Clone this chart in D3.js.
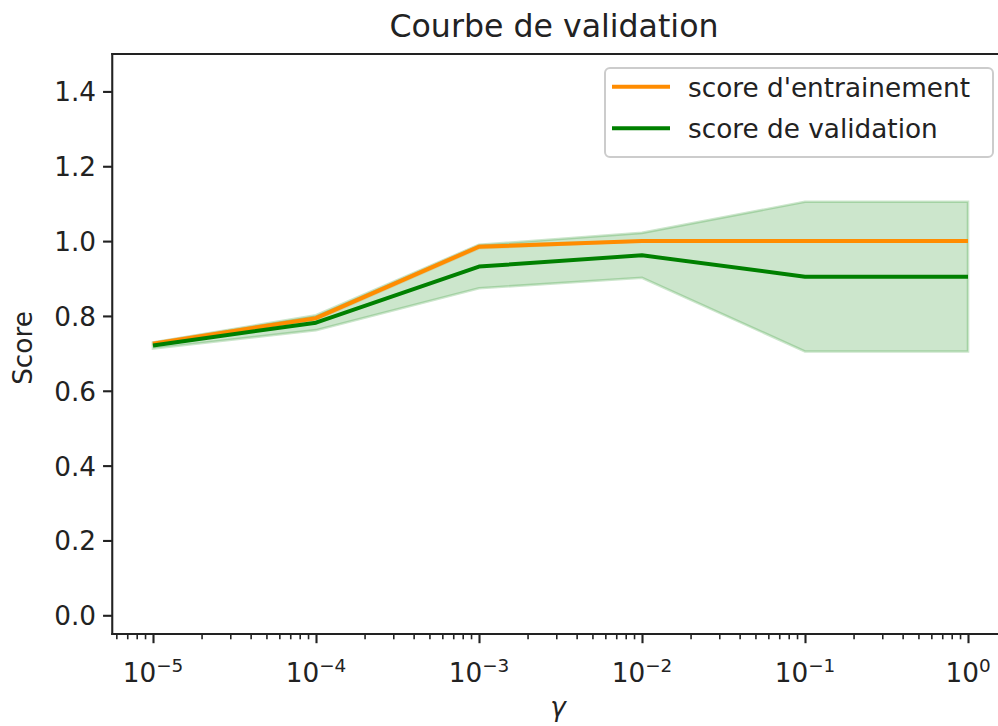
<!DOCTYPE html>
<html>
<head>
<meta charset="utf-8">
<script src="https://cdn.jsdelivr.net/npm/d3@7"></script>
<style>
  html, body { margin: 0; padding: 0; background: #fff; }
  svg { display: block; font-family: "DejaVu Sans", sans-serif; }
</style>
</head>
<body>
<svg id="chart" width="998" height="726"></svg>
<script>
// ---- data ----
const gammaValues = [1e-5, 1e-4, 1e-3, 1e-2, 1e-1, 1e0];
const trainMean   = [0.726, 0.794, 0.985, 1.0, 1.0, 1.0];
const trainStd    = [0.003, 0.004, 0.004, 0.0, 0.0, 0.0];
const valMean     = [0.721, 0.782, 0.932, 0.962, 0.905, 0.905];
const valStd      = [0.008, 0.020, 0.058, 0.060, 0.200, 0.200];
const yTicks      = [0.0, 0.2, 0.4, 0.6, 0.8, 1.0, 1.2, 1.4];
const xTickExps   = [-5, -4, -3, -2, -1, 0];
const seriesNames = ["score d'entrainement", "score de validation"];
const chartTitle  = "Courbe de validation";
const yLabel      = "Score";

(function () {
// ---- layout ----
const pLeft = 112.25, pRight = 1008.75, pTop = 54, pBottom = 634;
const ink = "#222";
const orange = "#ff8c00", green = "#008000";
const svg = d3.select("#chart");

const x = d3.scaleLog().domain([Math.pow(10, -5.25), Math.pow(10, 0.25)]).range([pLeft, pRight]);
const y = d3.scaleLinear().domain([-0.05, 1.5]).range([pBottom, pTop]);

const rows = gammaValues.map((g, i) => ({
  g, tm: trainMean[i], ts: trainStd[i], vm: valMean[i], vs: valStd[i]
}));

svg.append("clipPath").attr("id", "plotclip").append("rect")
  .attr("x", pLeft).attr("y", pTop).attr("width", pRight - pLeft).attr("height", pBottom - pTop);
const plot = svg.append("g").attr("clip-path", "url(#plotclip)");

const line = key => d3.line().x(d => x(d.g)).y(d => y(d[key]));
const band = (m, s) => d3.area().x(d => x(d.g)).y0(d => y(d[m] - d[s])).y1(d => y(d[m] + d[s]));

// bands
plot.append("path").datum(rows).attr("d", band("tm", "ts"))
  .attr("fill", orange).attr("fill-opacity", 0.2)
  .attr("stroke", orange).attr("stroke-opacity", 0.2).attr("stroke-width", 2.6);
plot.append("path").datum(rows).attr("d", band("vm", "vs"))
  .attr("fill", green).attr("fill-opacity", 0.2)
  .attr("stroke", green).attr("stroke-opacity", 0.2).attr("stroke-width", 2.6);
// lines
plot.append("path").datum(rows).attr("d", line("tm"))
  .attr("fill", "none").attr("stroke", orange).attr("stroke-width", 4).attr("stroke-linejoin", "round");
plot.append("path").datum(rows).attr("d", line("vm"))
  .attr("fill", "none").attr("stroke", green).attr("stroke-width", 4).attr("stroke-linejoin", "round");

// ---- axes ----
const yAxis = d3.axisLeft(y).tickValues(yTicks).tickSize(9.2).tickPadding(7)
  .tickFormat(d3.format(".1f"));
const gy = svg.append("g").attr("transform", `translate(${pLeft},0)`).call(yAxis);
gy.select(".domain").remove();
gy.selectAll(".tick line").attr("stroke", ink).attr("stroke-width", 2.1);
gy.selectAll(".tick text").attr("fill", ink).attr("font-size", 26.3)
  .attr("font-family", "DejaVu Sans").attr("dy", "0.36em");

const majors = xTickExps.map(e => Math.pow(10, e));
const gx = svg.append("g").attr("transform", `translate(0,${pBottom})`);
gx.call(d3.axisBottom(x).tickValues(majors).tickSize(9.2).tickFormat(""));
gx.select(".domain").remove();
gx.selectAll(".tick line").attr("stroke", ink).attr("stroke-width", 2.1);

const [d0, d1] = x.domain();
const minors = [];
for (let e = -6; e <= 0; e++) {
  for (let k = 2; k <= 9; k++) {
    const v = k * Math.pow(10, e);
    if (v >= d0 && v <= d1) minors.push(v);
  }
}
svg.append("g").selectAll("line").data(minors).join("line")
  .attr("x1", d => x(d)).attr("x2", d => x(d))
  .attr("y1", pBottom).attr("y2", pBottom + 5.3)
  .attr("stroke", ink).attr("stroke-width", 1.6);

const xl = svg.append("g");
xTickExps.forEach(e => {
  const t = xl.append("text")
    .attr("x", x(Math.pow(10, e))).attr("y", 681.5)
    .attr("text-anchor", "middle").attr("fill", ink).attr("font-size", 26.3);
  t.append("tspan").text("10");
  t.append("tspan").attr("dy", -9.5).attr("font-size", 18.4)
    .text(e < 0 ? "\u2212" + Math.abs(e) : String(e));
});

// spines
const spine = (x1, y1, x2, y2) => svg.append("line").attr("x1", x1).attr("y1", y1)
  .attr("x2", x2).attr("y2", y2).attr("stroke", ink).attr("stroke-width", 2.1);
spine(pLeft, pTop - 1, pLeft, pBottom + 1);
spine(pLeft - 1, pTop, pRight, pTop);
spine(pLeft - 1, pBottom, pRight, pBottom);
spine(pRight, pTop, pRight, pBottom);

// title and labels
svg.append("text").attr("x", 554).attr("y", 36.5).attr("text-anchor", "middle")
  .attr("font-size", 31.6).attr("fill", ink).text(chartTitle);
svg.append("text").attr("transform", "translate(32,348) rotate(-90)")
  .attr("text-anchor", "middle").attr("font-size", 26.3).attr("fill", ink).text(yLabel);
svg.append("text").attr("x", 558).attr("y", 716).attr("text-anchor", "middle")
  .attr("font-size", 26.3).attr("font-style", "italic").attr("fill", ink).text("\u03b3");

// legend
const lg = svg.append("g");
lg.append("rect").attr("x", 605).attr("y", 68).attr("width", 388).attr("height", 89)
  .attr("rx", 5).attr("fill", "#fff").attr("fill-opacity", 0.8)
  .attr("stroke", "#cccccc").attr("stroke-width", 2);
const legendColors = [orange, green];
seriesNames.forEach((name, i) => {
  const yy = 86.7 + i * 41.6;
  lg.append("line").attr("x1", 612).attr("x2", 670).attr("y1", yy).attr("y2", yy)
    .attr("stroke", legendColors[i]).attr("stroke-width", 4);
  lg.append("text").attr("x", 688).attr("y", yy + 9.8)
    .attr("font-size", 26.3).attr("fill", ink).text(name);
});
})();
</script>
</body>
</html>
